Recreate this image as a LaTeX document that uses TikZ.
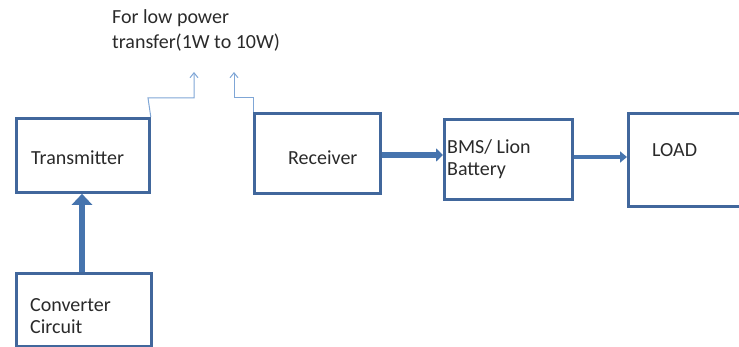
\documentclass[tikz,border=0pt]{standalone}
\usepackage{fontspec}
\setmainfont{Carlito}
\usetikzlibrary{arrows.meta}

\definecolor{boxline}{HTML}{41679C}
\definecolor{arrowblue}{HTML}{4674AE}
\definecolor{thinblue}{HTML}{7FA6D6}
\definecolor{txt}{HTML}{2A2A2A}

\tikzset{
  blk/.style={draw=boxline, line width=2.8pt, inner sep=0pt, anchor=north west},
  lbl/.style={text=txt, font=\fontsize{20}{22.5}\selectfont, inner sep=0pt, align=left},
  fatarrow/.style={draw=arrowblue, line width=#1}
}

\begin{document}
\begin{tikzpicture}[x=1pt, y=-1pt]
        \useasboundingbox (0,0) rectangle (739,347);
        \clip (0,0) rectangle (739,347);
        % blocs
        \node[blk, minimum width=133pt, minimum height=74pt] (tx) at (15,117) {};
        \node[blk, minimum width=126pt, minimum height=80pt] (rx) at (253,112) {};
        \node[blk, minimum width=128pt, minimum height=80pt] (bms) at (443,118) {};
        \node[blk, minimum width=180pt, minimum height=93pt] (load) at (627,112) {};
        \node[blk, minimum width=135pt, minimum height=73pt] (conv) at (15,272) {};
        % textos
        \node[lbl, anchor=west] (txlbl) at (31,158) {Transmitter};
        \node[lbl, anchor=west] (rxlbl) at (288,158) {Receiver};
        \node[lbl, anchor=west] (bmslbl) at (447,159) {BMS/ Lion\\Battery};
        \node[lbl, anchor=west] (loadlbl) at (652,150) {LOAD};
        \node[lbl, anchor=west] (convlbl) at (30,316) {Converter\\Circuit};
        \node[lbl, anchor=west, font=\fontsize{20}{25}\selectfont] (note) at (112,30) {For low power\\transfer(1W to 10W)};
        % fletxes
        \draw[fatarrow=6.5pt, -{Triangle[length=11pt, width=20pt, fill=arrowblue]}] (conv.north -| 82,0) -- (tx.south -| 82,0);
        \draw[fatarrow=5.5pt, -{Triangle[length=7pt, width=13pt, fill=arrowblue]}] (rx.east |- 0,155) -- (bms.west |- 0,155);
        \draw[fatarrow=4pt, -{Triangle[length=7pt, width=11pt, fill=arrowblue]}] (bms.east |- 0,157) -- (load.west |- 0,157);
        % senyal sense fil
        \coordinate (ltip) at (194,72);
        \coordinate (rtip) at (234,72);
        \draw[thinblue, line width=1pt, -{Straight Barb[length=5pt, width=8pt]}] (tx.north east) -- (148,98) -- (194,98) -- (ltip);
        \draw[thinblue, line width=1pt, -{Straight Barb[length=5pt, width=8pt]}] (rx.north west) -- (253,98) -- (234,98) -- (rtip);
    \end{tikzpicture}
\end{document}
